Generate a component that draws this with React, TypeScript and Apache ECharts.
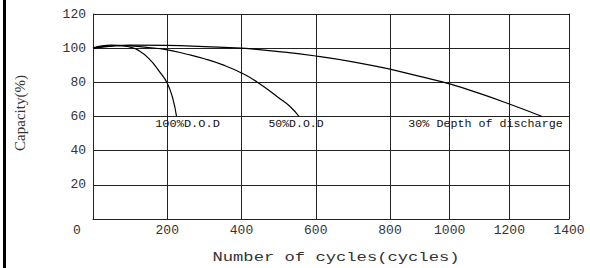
import React, { useEffect, useRef } from "react";
import * as echarts from "echarts";

// Capacity curves (cycles, capacity %)
const cycles100 = [0, 20, 50, 80, 100, 120, 150, 180, 200, 215, 225];
const cap100 = [100, 101.2, 101.8, 101.5, 100.6, 99, 94, 86, 79.5, 70.5, 60];

const cycles50 = [0, 30, 60, 100, 150, 200, 250, 300, 350, 400, 440, 500, 530, 555];
const cap50 = [100, 101, 101.5, 101.3, 100.4, 99, 96.6, 93.8, 90.2, 85.5, 80.5, 71, 66, 60];

const cycles30 = [0, 50, 100, 200, 300, 400, 500, 600, 700, 800, 900, 1000, 1100, 1200, 1310];
const cap30 = [100, 101.2, 101.8, 101.6, 100.9, 100, 98, 95.4, 92, 87.7, 83.5, 79.1, 73.5, 67.3, 60];

const labels = ["100%D.O.D", "50%D.O.D", "30% Depth of discharge"];
const xTitle = "Number of cycles(cycles)";
const yTitle = "Capacity(%)";

const X_SPLIT = 800;

const pairs = (xs: number[], ys: number[]) => xs.map((x, i) => [x, ys[i]]);

const MONO = "'Liberation Mono', 'DejaVu Sans Mono', monospace";
const SERIF = "'Liberation Serif', 'DejaVu Serif', serif";

export default function App() {
  const ref = useRef<HTMLDivElement>(null);
  useEffect(() => {
    if (!ref.current) return;
    const chart = echarts.init(ref.current, null, { renderer: "svg" });
    const d30 = pairs(cycles30, cap30);
    const lineStyle = { color: "#000", width: 1.2 };
    const baseSeries = {
      type: "line" as const,
      symbol: "none",
      smooth: 0.5,
      lineStyle,
      silent: true,
    };
    const splitLine = { show: true, lineStyle: { color: "#222", width: 1 } };
    const axisLine = { show: true, lineStyle: { color: "#222", width: 1 } };
    const fmt = (v: number) => String(v);
    const labelStyle = { color: "#333", fontFamily: MONO, fontSize: 13, formatter: fmt };
    chart.setOption({
      animation: false,
      backgroundColor: "#fff",
      grid: [
        { left: 93, top: 14, width: 297, height: 205 },
        { left: 390, top: 14, width: 179, height: 205 },
      ],
      xAxis: [
        {
          gridIndex: 0, type: "value", min: 0, max: X_SPLIT, interval: 200,
          axisLine, axisTick: { show: false }, splitLine,
          axisLabel: { ...labelStyle, margin: 5, showMinLabel: false },
        },
        {
          gridIndex: 1, type: "value", min: X_SPLIT, max: 1400, interval: 200,
          axisLine, axisTick: { show: false }, splitLine,
          axisLabel: { ...labelStyle, margin: 5, showMinLabel: false },
        },
      ],
      yAxis: [
        {
          gridIndex: 0, type: "value", min: 0, max: 120, interval: 20,
          axisLine, axisTick: { show: false }, splitLine,
          axisLabel: { ...labelStyle, margin: 7, showMinLabel: false },
        },
        {
          gridIndex: 1, type: "value", min: 0, max: 120, interval: 20, position: "right",
          axisLine, axisTick: { show: false }, splitLine,
          axisLabel: { show: false },
        },
      ],
      series: [
        { ...baseSeries, xAxisIndex: 0, yAxisIndex: 0, data: pairs(cycles100, cap100) },
        { ...baseSeries, xAxisIndex: 0, yAxisIndex: 0, data: pairs(cycles50, cap50) },
        { ...baseSeries, xAxisIndex: 0, yAxisIndex: 0, data: d30.filter((p) => p[0] <= X_SPLIT) },
        { ...baseSeries, xAxisIndex: 1, yAxisIndex: 1, data: d30.filter((p) => p[0] >= X_SPLIT) },
      ],
      graphic: [
        { type: "rect", left: 3, top: 0, shape: { width: 3, height: 268 }, style: { fill: "#000" } },
        {
          type: "text", x: 77, y: 230,
          style: { text: "0", font: `13px ${MONO}`, fill: "#333", align: "center", verticalAlign: "middle" },
        },
        {
          type: "text", x: 336, y: 258, scaleX: 1.32,
          style: { text: xTitle, font: `13px ${MONO}`, fill: "#333", align: "center", verticalAlign: "middle" },
        },
        {
          type: "text", x: 20, y: 113, rotation: Math.PI / 2,
          style: { text: yTitle, font: `15px ${SERIF}`, fill: "#333", align: "center", verticalAlign: "middle" },
        },
        {
          type: "text", x: 187.5, y: 124.5, scaleX: 1.2,
          style: { text: labels[0], font: `10px ${MONO}`, fill: "#111", align: "center", verticalAlign: "middle" },
        },
        {
          type: "text", x: 296, y: 124.5, scaleX: 1.15,
          style: { text: labels[1], font: `10px ${MONO}`, fill: "#111", align: "center", verticalAlign: "middle" },
        },
        {
          type: "text", x: 485.5, y: 124.5, scaleX: 1.17,
          style: { text: labels[2], font: `10px ${MONO}`, fill: "#111", align: "center", verticalAlign: "middle" },
        },
      ],
    });
    return () => chart.dispose();
  }, []);
  return (
    <div
      ref={ref}
      style={{ position: "fixed", left: 0, top: 0, width: 590, height: 268 }}
    />
  );
}
